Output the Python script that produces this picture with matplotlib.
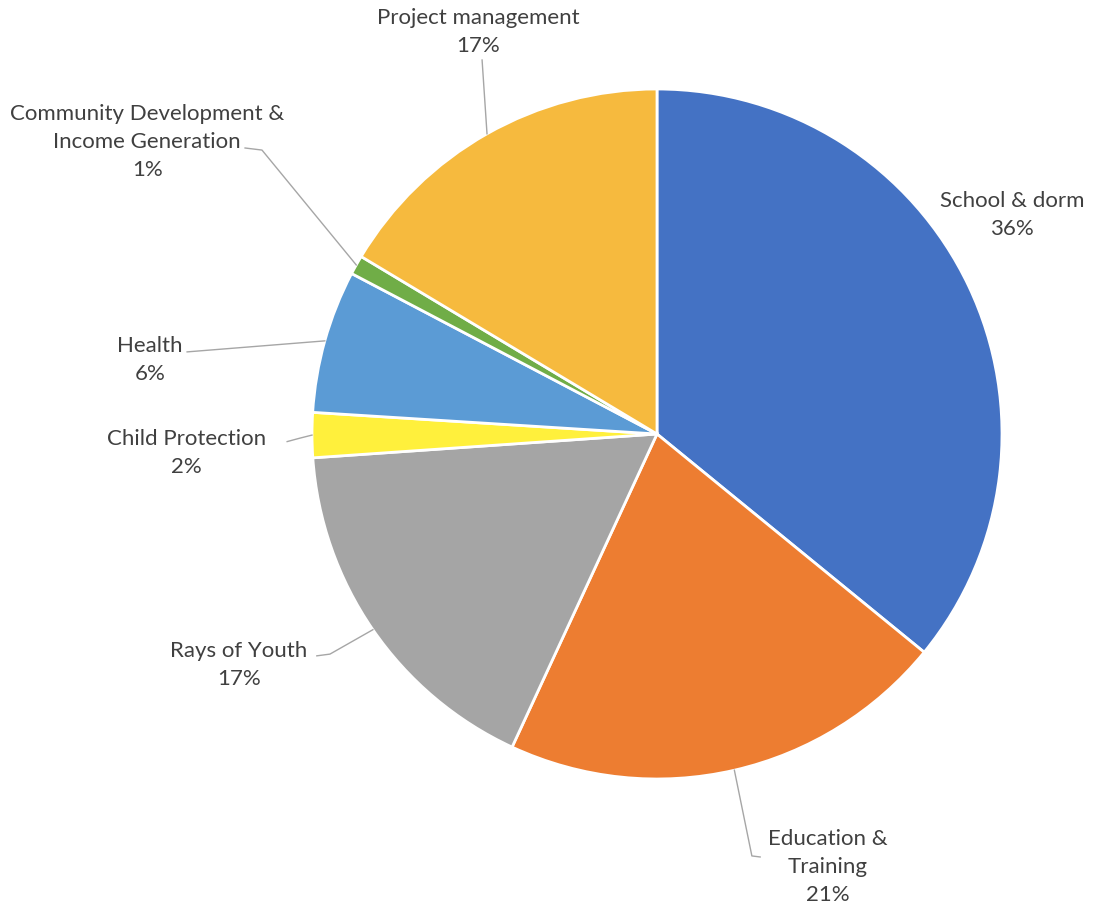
import numpy as np
from matplotlib import pyplot as plt

# slice order: clockwise from 12 o'clock
labels = ["School & dorm", "Education &\nTraining", "Rays of Youth", "Child Protection",
          "Health", "Community Development &\nIncome Generation", "Project management"]
shares = [35.9, 21.0, 17.0, 2.1, 6.7, 0.9, 16.4]
shown_pct = [36, 21, 17, 2, 6, 1, 17]
colors = ["#4472C4", "#ED7D31", "#A5A5A5", "#FFF03C", "#5B9BD5", "#70AD47", "#F6BA3E"]

# label layout (axes data units, pie radius = 1)
label_pos = [(1.029, 0.635), (0.496, -1.255), (-1.212, -0.670), (-1.365, -0.055),
             (-1.470, 0.214), (-1.478, 0.847), (-0.519, 1.165)]
# leader line end points near the label (None = no leader)
leader_ends = [None,
               [(0.275, -1.223), (0.299, -1.226)],
               [(-0.948, -0.638), (-0.986, -0.643)],
               [(-1.035, -0.012), (-1.072, -0.022)],
               [(-1.362, 0.238)],
               [(-1.145, 0.823), (-1.194, 0.829)],
               [(-0.507, 1.084)]]

plt.rcParams['font.family'] = ['Lato', 'DejaVu Sans']

W, H = 1096, 911
cx, cy, r = 657, 434, 345
fig = plt.figure(figsize=(W / 100, H / 100), dpi=100)
ax = fig.add_axes([(cx - r) / W, (H - cy - r) / H, 2 * r / W, 2 * r / H])

wedges, _ = ax.pie(shares, colors=colors, startangle=90, counterclock=False, radius=1,
                   wedgeprops=dict(edgecolor='white', linewidth=2))
# pie() resets the limits, so set them afterwards
ax.set_xlim(-1, 1)
ax.set_ylim(-1, 1)
ax.set_aspect('equal')
ax.axis('off')

for i, w in enumerate(wedges):
    mid = np.deg2rad((w.theta1 + w.theta2) / 2)
    if leader_ends[i] is not None:
        pts = [(np.cos(mid), np.sin(mid))] + leader_ends[i]
        xs, ys = zip(*pts)
        ax.plot(xs, ys, color="#A6A6A6", lw=1, clip_on=False)
    tx, ty = label_pos[i]
    ax.text(tx, ty, f"{labels[i]}\n{shown_pct[i]}%", ha='center', va='center',
            fontsize=16, color="#404040", linespacing=1.5, clip_on=False)

fig.savefig("out.png", dpi=100, facecolor='white')
